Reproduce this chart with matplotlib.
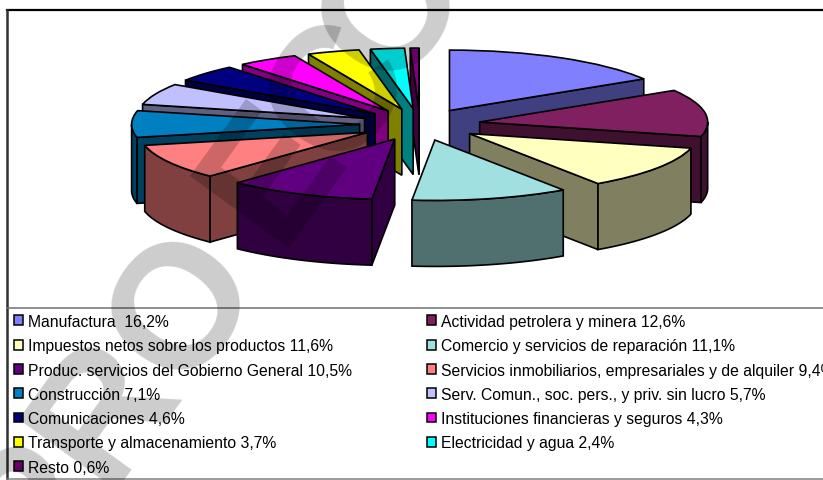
import numpy as np
import matplotlib
matplotlib.use('Agg')
import matplotlib.pyplot as plt
from matplotlib.patches import Polygon, Patch

# chart data, legend order
labels = ['Manufactura  16,2%', 'Actividad petrolera y minera 12,6%',
          'Impuestos netos sobre los productos 11,6%', 'Comercio y servicios de reparación 11,1%',
          'Produc. servicios del Gobierno General 10,5%',
          'Servicios inmobiliarios, empresariales y de alquiler 9,4%',
          'Construcción 7,1%', 'Serv. Comun., soc. pers., y priv. sin lucro 5,7%',
          'Comunicaciones 4,6%', 'Instituciones financieras y seguros 4,3%',
          'Transporte y almacenamiento 3,7%', 'Electricidad y agua 2,4%', 'Resto 0,6%']
values = [16.2, 12.6, 11.6, 11.1, 10.5, 9.4, 7.1, 5.7, 4.6, 4.3, 3.7, 2.4, 0.6]
colors = ['#8080FF', '#802060', '#FFFFC0', '#A0E0E0', '#600080', '#FF8080', '#0080C0',
          '#C0C0FF', '#000080', '#FF00FF', '#FFFF00', '#00FFFF', '#800080']
watermark = ['PRO', 'E', 'C', 'O']
watermark_xy = [(37, 585), (277, 248), (340, 172), (392, 92)]

# pie is squashed in y, so one y data unit is SQ pixels
W, H = 823, 481
SQ = 0.265
CX, CY = 420, 125.5
RADIUS = 228
EXPLODE = 60.4
DEPTH = 66 / SQ


def yp(py):
    return (H - py) / SQ


plt.rcParams['font.family'] = ['Liberation Sans', 'DejaVu Sans']
fig = plt.figure(figsize=(W / 100, H / 100), dpi=100)
ax = fig.add_axes([0, 0, 1, 1])

wedges, _ = ax.pie(values, colors=colors, radius=RADIUS, center=(CX, yp(CY)),
                   explode=[EXPLODE] * len(values), startangle=90, counterclock=False,
                   wedgeprops={'edgecolor': 'black', 'linewidth': 1.2})
ax.set_aspect('auto')
ax.set_xlim(0, W)
ax.set_ylim(0, H / SQ)

# back wedges first, then nearer ones paint over them
mids = [np.radians((w.theta1 + w.theta2) / 2) for w in wedges]
order = np.argsort(-np.sin(mids))
for rank, i in enumerate(order):
    w = wedges[i]
    cx, cy = w.center
    side = tuple(0.5 * c for c in matplotlib.colors.to_rgb(colors[i]))
    z = 5 + 2 * rank
    w.set_zorder(z + 1)
    rim = lambda t: (cx + RADIUS * np.cos(np.radians(t)), cy + RADIUS * np.sin(np.radians(t)))

    # flat cut faces, only the ones turned towards the viewer
    faces = []
    if np.cos(np.radians(w.theta1)) > 0:
        faces.append([(cx, cy), rim(w.theta1)])
    if np.cos(np.radians(w.theta2)) < 0:
        faces.append([rim(w.theta2), (cx, cy)])

    # outer wall, front half of the circle only
    ts = np.linspace(w.theta1, w.theta2, 80)
    ts = ts[np.sin(np.radians(ts)) < 0]
    if len(ts) > 1:
        faces.append([rim(t) for t in ts])

    for pts in faces:
        low = [(x, y - DEPTH) for x, y in reversed(pts)]
        ax.add_patch(Polygon(pts + low, closed=True, facecolor=side, edgecolor='black',
                             linewidth=1.2, zorder=z))

# frame and divider above the legend
ax.plot([7, W], [yp(11), yp(11)], color='black', lw=1.6, zorder=60)
ax.plot([7, 7], [yp(11), yp(481)], color='#303030', lw=1.8, zorder=60)
ax.plot([7, W], [yp(308.5), yp(308.5)], color='#707070', lw=1.1, zorder=60)
ax.plot([7, W], [yp(480), yp(480)], color='#808080', lw=1.1, zorder=60)

# ncols fills column by column, the chart reads row by row
idx = list(range(0, len(values), 2)) + list(range(1, len(values), 2))
handles = [Patch(facecolor=colors[i], edgecolor='black', linewidth=1.1, label=labels[i]) for i in idx]
leg = fig.legend(handles=handles, ncols=2, loc='upper left', bbox_to_anchor=(14 / W, 1 - 315 / H),
                 bbox_transform=fig.transFigure, frameon=False, fontsize=11.3,
                 handlelength=0.6, handleheight=0.6, handletextpad=0.32, borderpad=0, borderaxespad=0,
                 labelspacing=0.59, columnspacing=4.75)

# diagonal watermark lying over everything
for part, (x, y) in zip(watermark, watermark_xy):
    fig.text(x / W, 1 - y / H, part, rotation=54, rotation_mode='anchor', ha='left', va='baseline',
             fontsize=127, fontweight='bold', color='black', alpha=0.2, zorder=80)

fig.savefig('out.png', dpi=100)
